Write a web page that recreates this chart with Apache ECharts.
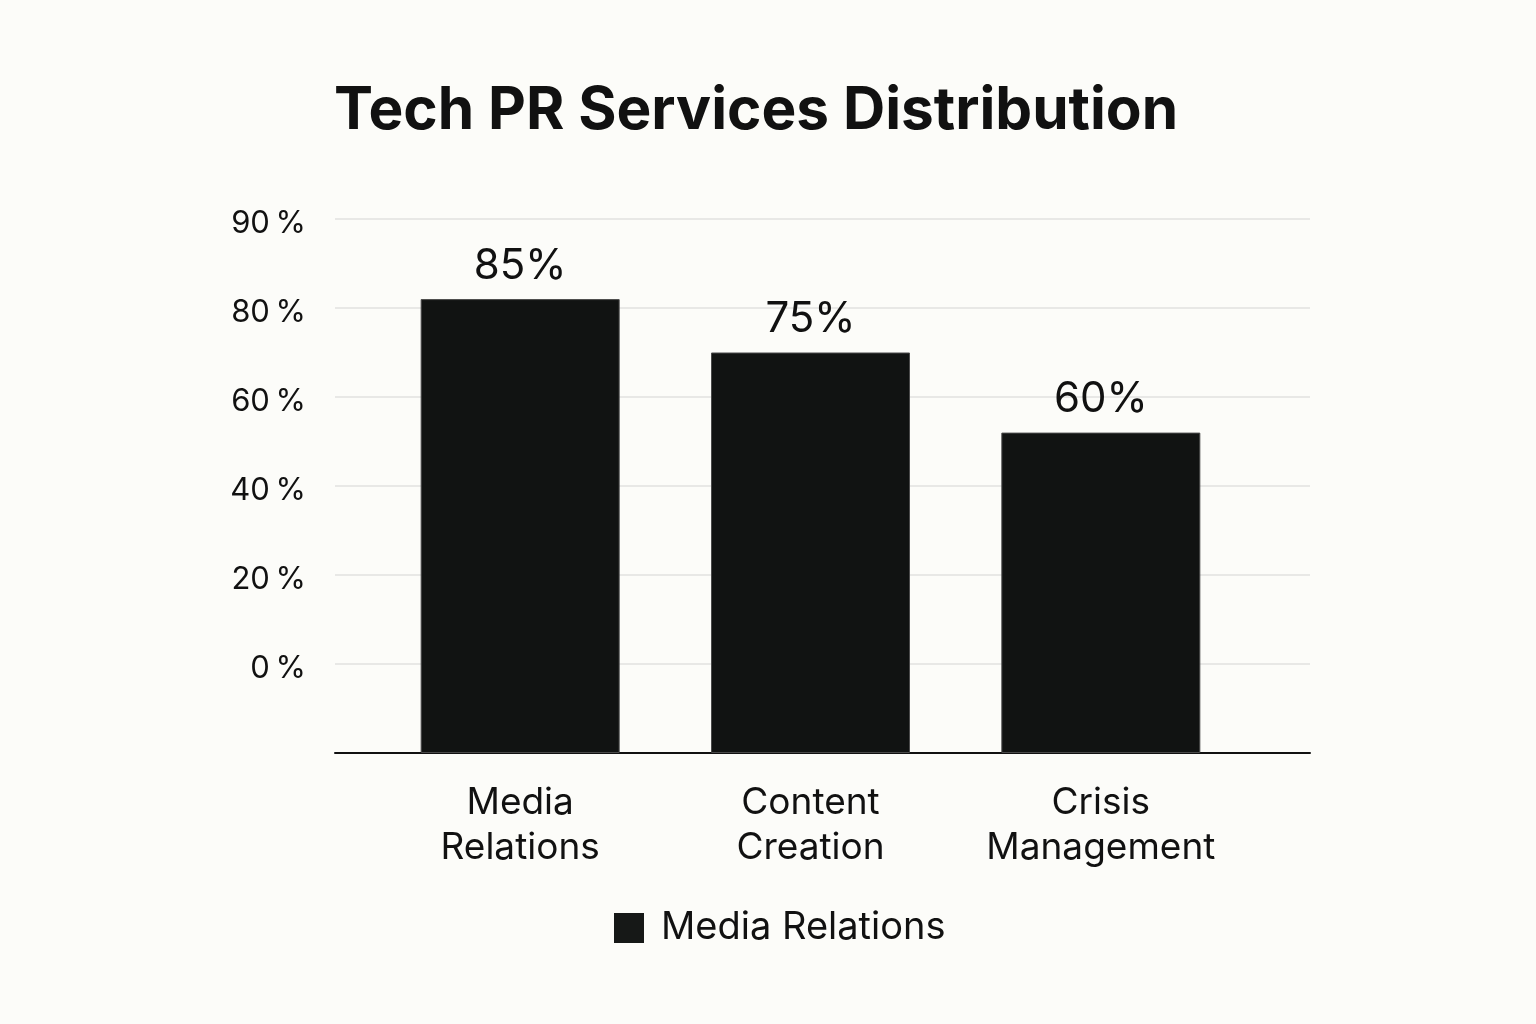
<!DOCTYPE html>
<html>
<head>
<meta charset="utf-8">
<script src="https://cdn.jsdelivr.net/npm/echarts@6/dist/echarts.min.js"></script>
<style>
html,body{margin:0;padding:0;background:#fcfcf9;}
#chart{width:1536px;height:1024px;}
</style>
</head>
<body>
<div id="chart"></div>
<script>
const categories = ['Media\nRelations', 'Content\nCreation', 'Crisis\nManagement'];
const values = [85, 75, 60];
const valueLabels = ['85%', '75%', '60%'];
const tickLabels = ['', '0\u2009%', '20\u2009%', '40\u2009%', '60\u2009%', '80\u2009%', '90\u2009%'];
const seriesName = 'Media Relations';

const FONT = 'Inter, "Noto Sans", sans-serif';
const STEP = 100 / 6;
const chart = echarts.init(document.getElementById('chart'));
chart.setOption({
  backgroundColor: '#fcfcf9',
  animation: false,
  title: {
    text: 'Tech PR Services Distribution',
    left: 329, top: 77,
    textStyle: { fontFamily: FONT, fontSize: 58.5, fontWeight: 'bold', color: '#111111' }
  },
  legend: {
    data: [seriesName],
    left: 609, top: 904,
    itemWidth: 30, itemHeight: 30, itemGap: 20,
    icon: 'rect',
    itemStyle: { borderWidth: 0, color: '#161817' },
    textStyle: { fontFamily: FONT, fontSize: 38, color: '#111111', padding: [0, 0, 0, 12] }
  },
  grid: [
    { left: 335, right: 226, top: 219, bottom: 271 },
    { left: 375, right: 290, top: 219, bottom: 271 }
  ],
  xAxis: [
    { type: 'category', gridIndex: 0, data: categories, show: true,
      axisLine: { show: true, lineStyle: { color: '#111111', width: 2 } },
      axisTick: { show: false }, axisLabel: { show: false } },
    { type: 'category', gridIndex: 1, data: categories,
      axisLine: { show: false }, axisTick: { show: false },
      axisLabel: { interval: 0, hideOverlap: false, fontFamily: FONT, fontSize: 37,
        color: '#111111', lineHeight: 45, margin: 27 } }
  ],
  yAxis: [
    { type: 'value', gridIndex: 0, min: 0, max: 100, interval: STEP,
      axisLine: { show: false }, axisTick: { show: false },
      splitLine: { lineStyle: { color: '#e2e2df', width: 1.5 } },
      axisLabel: { color: '#111111', margin: 29,
        formatter: function (v) {
          const t = tickLabels[Math.round(v / STEP)];
          return t ? '{t|' + t + '}' : '';
        },
        rich: { t: { fontFamily: FONT, fontSize: 31, color: '#111111', padding: [9, 0, 0, 0] } } } },
    { type: 'value', gridIndex: 1, min: 0, max: 100, interval: STEP, show: false,
      splitLine: { show: false } }
  ],
  series: [{
    name: seriesName,
    type: 'bar',
    xAxisIndex: 1, yAxisIndex: 1,
    data: values,
    barWidth: 199,
    itemStyle: { color: '#111312', borderColor: '#4a4a4a', borderWidth: 1 },
    label: { show: true, position: 'top', distance: 12,
      fontFamily: FONT, fontSize: 42, color: '#111111',
      formatter: function (p) { return valueLabels[p.dataIndex]; } }
  }]
});
</script>
</body>
</html>
